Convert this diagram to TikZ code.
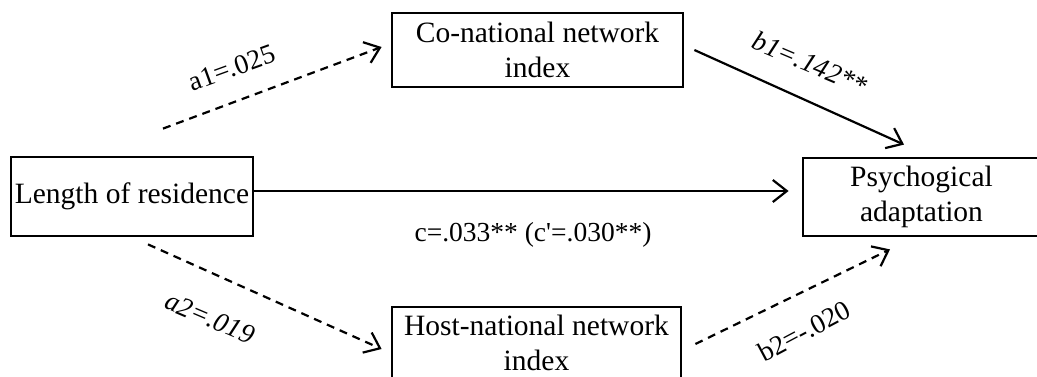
\documentclass[tikz,border=0pt]{standalone}
\usepackage{fontspec}
\setmainfont{Liberation Serif}
% same face without the TeX quote ligatures, for the straight prime in c'
\newfontfamily\coeffont{Liberation Serif}
\usetikzlibrary{arrows.meta}

\tikzset{
  varbox/.style={draw, line width=2.8pt, align=center, inner sep=0pt,
                 font=\fontsize{29.5}{35}\selectfont},
  path arrow/.style={line width=2.2pt, -{Straight Barb[length=14pt,width=22pt,line width=2.2pt]}},
  dashed path/.style={path arrow, dash pattern=on 8pt off 6pt},
  coef/.style={font=\coeffont\fontsize{27.5}{30}\selectfont, inner sep=0pt},
  coef it/.style={font=\coeffont\fontsize{27.5}{30}\selectfont\itshape, inner sep=0pt}
}

\begin{document}
\begin{tikzpicture}[x=1pt,y=-1pt]
  \useasboundingbox (0,0) rectangle (1037,376);
  \clip (0,0) rectangle (1037,376);

  % variables
  \node[varbox, minimum width=242pt, minimum height=79pt] (len) at (132,196.5)
    {Length of residence};
  \node[varbox, minimum width=291pt, minimum height=74pt] (co) at (537.5,50)
    {Co-national network\\index};
  \node[varbox, minimum width=237pt, minimum height=78pt] (psy) at (921.5,197)
    {Psychogical\\adaptation};
  \node[varbox, minimum width=289pt, minimum height=72pt] (host) at (536.5,343)
    {Host-national network\\index};

  % path ends
  \coordinate (a1s) at ([shift={(31,-27)}]len.north);
  \coordinate (a1e) at ([shift={(-9,-3)}]co.west);
  \coordinate (b1s) at ([shift={(10,0)}]co.east);
  \coordinate (b1e) at ([shift={(-17.5,-12)}]psy.north);
  \coordinate (cs)  at ([shift={(0,-5.5)}]len.east);
  \coordinate (ce)  at ([shift={(-13,0)}]cs -| psy.west);
  \coordinate (a2s) at ([shift={(16,7)}]len.south);
  \coordinate (a2e) at ([shift={(-9,6)}]host.west);
  \coordinate (b2s) at ([shift={(13,1)}]host.east);
  \coordinate (b2e) at ([shift={(-31.5,12)}]psy.south);

  % paths
  \draw[dashed path] (a1s) -- (a1e);
  \draw[path arrow]  (b1s) -- (b1e);
  \draw[path arrow]  (cs) -- (ce);
  \draw[dashed path] (a2s) -- (a2e);
  \draw[dashed path] (b2s) -- (b2e);

  % coefficients
  \node[coef, rotate=20] (la1) at (232,68) {a1=.025};
  \node[coef it, rotate=-23] (lb1) at (810,63) {b1=.142**};
  \node[coef] (lc) at (533,235) {c=.033** (c'=.030**)};
  \node[coef it, rotate=-23] (la2) at (210,318) {a2=.019};
  \node[coef, rotate=28] (lb2) at (804,331) {b2=-.020};
\end{tikzpicture}
\end{document}
